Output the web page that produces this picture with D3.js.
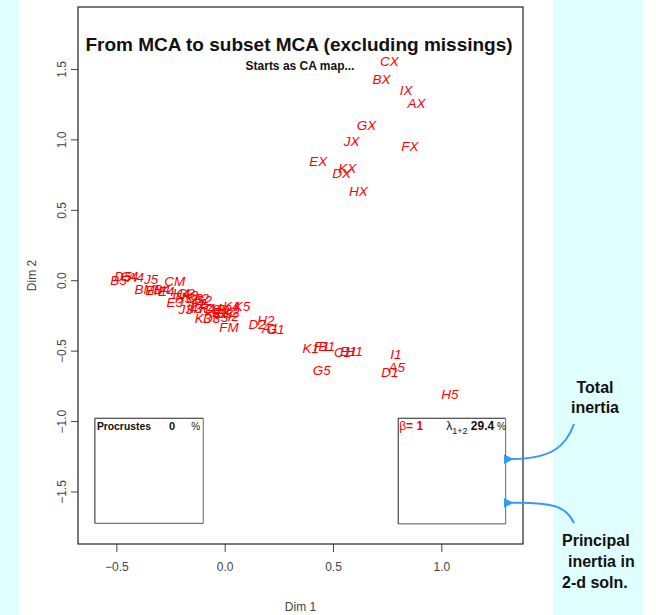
<!DOCTYPE html>
<html>
<head>
<meta charset="utf-8">
<script src="https://cdn.jsdelivr.net/npm/d3@7"></script>
<style>
  body { margin: 0; background: #fff; }
  svg { display: block; font-family: "Liberation Sans", Arial, sans-serif; }
</style>
</head>
<body>
<div id="chart"></div>
<script>
// category labels and their MCA coordinates
var labels = [
  "CX", "BX", "IX", "AX", "GX", "JX", "FX", "EX", "KX", "DX", "HX",
  "K1", "F1", "B1", "C1", "E1", "H1", "G5", "I1", "A5", "D1", "H5",
  "B5", "D5", "G4", "A4", "J5", "CM", "BM", "EM", "B4", "E4",
  "H4", "G3", "A3", "E3", "J3", "H3", "A2", "C3", "I3", "I4",
  "F4", "D4", "K4", "K5", "K3", "D3", "F3", "B3", "FM", "D2",
  "H2", "A1", "G1", "K2", "C2", "J2", "G2", "F2", "I2", "E2"
];
var dim1 = [
  0.760, 0.724, 0.837, 0.886, 0.655, 0.586, 0.855, 0.432, 0.566, 0.540, 0.617,
  0.397, 0.448, 0.471, 0.545, 0.570, 0.598, 0.448, 0.790, 0.794, 0.763, 1.040,
  -0.490, -0.470, -0.440, -0.410, -0.340, -0.230, -0.370, -0.320, -0.290, -0.270,
  -0.200, -0.180, -0.160, -0.230, -0.180, -0.190, -0.110, -0.140, -0.130, -0.150,
  -0.080, -0.050, 0.030, 0.080, -0.100, -0.060, -0.020, 0.000, 0.020, 0.150,
  0.190, 0.210, 0.235, 0.030, -0.060, 0.000, -0.100, -0.120, 0.040, -0.020
];
var dim2 = [
  1.553, 1.427, 1.352, 1.257, 1.103, 0.989, 0.949, 0.849, 0.795, 0.760, 0.636,
  -0.483, -0.471, -0.467, -0.511, -0.507, -0.502, -0.642, -0.526, -0.614, -0.656, -0.808,
  0.000, 0.030, 0.030, 0.025, 0.010, -0.005, -0.065, -0.070, -0.065, -0.075,
  -0.090, -0.095, -0.105, -0.155, -0.205, -0.125, -0.130, -0.125, -0.195, -0.200,
  -0.195, -0.195, -0.185, -0.185, -0.270, -0.270, -0.265, -0.235, -0.335, -0.310,
  -0.285, -0.340, -0.345, -0.225, -0.205, -0.205, -0.145, -0.165, -0.255, -0.225
];

var xTicks = [-0.5, 0.0, 0.5, 1.0];
var yTicks = [-1.5, -1.0, -0.5, 0.0, 0.5, 1.0, 1.5];

// inset boxes in data units: [x0, x1, y0, y1]
var procrustesBox = [-0.599, -0.099, -1.726, -0.980];
var inertiaBox = [0.801, 1.297, -1.730, -0.980];
var inertiaMarks = [-1.27, -1.58];   // total inertia, principal inertia in 2-d

var procrustesValue = 0;
var inertiaPct = 29.4;
var beta = 1;

var W = 656, H = 615;
var plot = { left: 78, right: 523, top: 7, bottom: 544 };

var svg = d3.select("#chart").append("svg")
    .attr("width", W)
    .attr("height", H);

// cyan side strips
svg.append("rect").attr("x", 0).attr("y", 0).attr("width", 19).attr("height", H).attr("fill", "#e0ffff");
svg.append("rect").attr("x", 553).attr("y", 0).attr("width", 90).attr("height", H).attr("fill", "#e0ffff");

var x = d3.scaleLinear().domain([-0.677, 1.377]).range([plot.left, plot.right]);
var y = d3.scaleLinear().domain([-1.873, 1.94]).range([plot.bottom, plot.top]);

// axes
var gX = svg.append("g")
    .attr("transform", "translate(0," + plot.bottom + ")")
    .call(d3.axisBottom(x).tickValues(xTicks).tickFormat(d3.format(".1f")).tickSize(8).tickPadding(10));
gX.select(".domain").remove();
gX.selectAll("text").attr("font-size", 12).attr("fill", "#444").attr("font-family", "Liberation Sans, Arial, sans-serif");
gX.selectAll("line").attr("stroke", "#444");

var gY = svg.append("g")
    .attr("transform", "translate(" + plot.left + ",0)")
    .call(d3.axisLeft(y).tickValues(yTicks).tickFormat(d3.format(".1f")).tickSize(7));
gY.select(".domain").remove();
gY.selectAll("line").attr("stroke", "#444");
gY.selectAll("text")
    .attr("font-size", 12).attr("fill", "#444")
    .attr("font-family", "Liberation Sans, Arial, sans-serif")
    .attr("x", null).attr("dy", null)
    .attr("text-anchor", "middle")
    .attr("transform", "translate(-12,0) rotate(-90)");

// axis titles
svg.append("text").attr("x", (plot.left + plot.right) / 2).attr("y", 611)
    .attr("text-anchor", "middle").attr("font-size", 12).attr("fill", "#444").text("Dim 1");
svg.append("text")
    .attr("transform", "translate(36," + (plot.top + plot.bottom) / 2 + ") rotate(-90)")
    .attr("text-anchor", "middle").attr("font-size", 12).attr("fill", "#444").text("Dim 2");

// plot frame
svg.append("rect")
    .attr("x", plot.left).attr("y", plot.top)
    .attr("width", plot.right - plot.left).attr("height", plot.bottom - plot.top)
    .attr("fill", "none").attr("stroke", "#222").attr("stroke-width", 1.2);

// titles
svg.append("text").attr("x", 299).attr("y", 51)
    .attr("text-anchor", "middle").attr("font-size", 19).attr("font-weight", "bold")
    .attr("fill", "#111").text("From MCA to subset MCA (excluding missings)");
svg.append("text").attr("x", 300).attr("y", 70)
    .attr("text-anchor", "middle").attr("font-size", 12).attr("font-weight", "bold")
    .attr("fill", "#111").text("Starts as CA map...");

// category labels
var pts = labels.map(function (d, i) { return { label: d, d1: dim1[i], d2: dim2[i] }; });
svg.append("g").selectAll("text")
    .data(pts)
    .enter().append("text")
    .attr("x", function (d) { return x(d.d1); })
    .attr("y", function (d) { return y(d.d2); })
    .attr("dy", "0.36em")
    .attr("text-anchor", "middle")
    .attr("font-size", 13.5)
    .attr("font-style", "italic")
    .attr("fill", "#ff0000")
    .text(function (d) { return d.label; });

// inset boxes
function drawBox(b) {
    var g = svg.append("g");
    var x0 = x(b[0]), x1 = x(b[1]), y0 = y(b[3]), y1 = y(b[2]);
    g.append("line").attr("x1", x0).attr("x2", x1).attr("y1", y0).attr("y2", y0).attr("stroke", "#222");
    g.append("line").attr("x1", x0).attr("x2", x0).attr("y1", y0).attr("y2", y1).attr("stroke", "#222");
    g.append("line").attr("x1", x1).attr("x2", x1).attr("y1", y0).attr("y2", y1).attr("stroke", "#666");
    g.append("line").attr("x1", x0).attr("x2", x1).attr("y1", y1).attr("y2", y1).attr("stroke", "#555");
    return g;
}

var pb = drawBox(procrustesBox);
var pTop = y(procrustesBox[3]);
pb.append("text").attr("x", x(procrustesBox[0]) + 2).attr("y", pTop + 12)
    .attr("font-size", 11).attr("font-weight", "bold").attr("fill", "#111")
    .attr("textLength", 54).attr("lengthAdjust", "spacingAndGlyphs").text("Procrustes");
pb.append("text").attr("x", x(procrustesBox[0]) + 74).attr("y", pTop + 12)
    .attr("font-size", 11).attr("font-weight", "bold").attr("fill", "#111").text(procrustesValue);
pb.append("text").attr("x", x(procrustesBox[1]) - 12).attr("y", pTop + 12)
    .attr("font-size", 10).attr("fill", "#222").text("%");

var ib = drawBox(inertiaBox);
var iTop = y(inertiaBox[3]);
var bt = ib.append("text").attr("x", x(inertiaBox[0]) + 1).attr("y", iTop + 12)
    .attr("font-size", 12).attr("fill", "#ff0000");
bt.append("tspan").text("\u03b2");
bt.append("tspan").attr("font-weight", "bold").text("= " + beta);
var lt = ib.append("text").attr("x", x(inertiaBox[0]) + 48).attr("y", iTop + 12)
    .attr("font-size", 12).attr("fill", "#111");
lt.append("tspan").text("\u03bb");
lt.append("tspan").attr("font-size", 9).attr("dy", 4).text("1+2");
lt.append("tspan").attr("dy", -4).attr("font-weight", "bold").text(" " + inertiaPct);
lt.append("tspan").attr("font-size", 10).text(" %");

// small marks on the right edge of inertia box
ib.selectAll(".mark").data(inertiaMarks).enter().append("line")
    .attr("x1", x(inertiaBox[1])).attr("x2", x(inertiaBox[1]) + 2)
    .attr("y1", function (d) { return y(d); }).attr("y2", function (d) { return y(d); })
    .attr("stroke", "#222");

// annotation arrows
var blue = "#3399ff";
svg.append("defs").append("marker")
    .attr("id", "arrow").attr("viewBox", "0 0 10 10")
    .attr("refX", 2).attr("refY", 5)
    .attr("markerWidth", 5).attr("markerHeight", 5)
    .attr("orient", "auto")
    .append("path").attr("d", "M10,0 L0,5 L10,10 Z").attr("fill", blue);

var ex = x(inertiaBox[1]) + 6;
var yT = y(inertiaMarks[0]), yP = y(inertiaMarks[1]);
svg.append("path")
    .attr("d", "M574,424 C566,446 552,459 " + ex + "," + yT)
    .attr("fill", "none").attr("stroke", blue).attr("stroke-width", 2)
    .attr("marker-end", "url(#arrow)");
svg.append("path")
    .attr("d", "M574,523 C566,506 552,502 " + ex + "," + yP)
    .attr("fill", "none").attr("stroke", blue).attr("stroke-width", 2)
    .attr("marker-end", "url(#arrow)");

// annotation text
var note = svg.append("g").attr("font-size", 16).attr("font-weight", "bold").attr("fill", "#111");
note.append("text").attr("x", 595).attr("y", 393).attr("text-anchor", "middle").text("Total");
note.append("text").attr("x", 595).attr("y", 413).attr("text-anchor", "middle").text("inertia");
note.append("text").attr("x", 562).attr("y", 546).text("Principal");
note.append("text").attr("x", 568).attr("y", 567).text("inertia in");
note.append("text").attr("x", 562).attr("y", 588).text("2-d soln.");
</script>
</body>
</html>
